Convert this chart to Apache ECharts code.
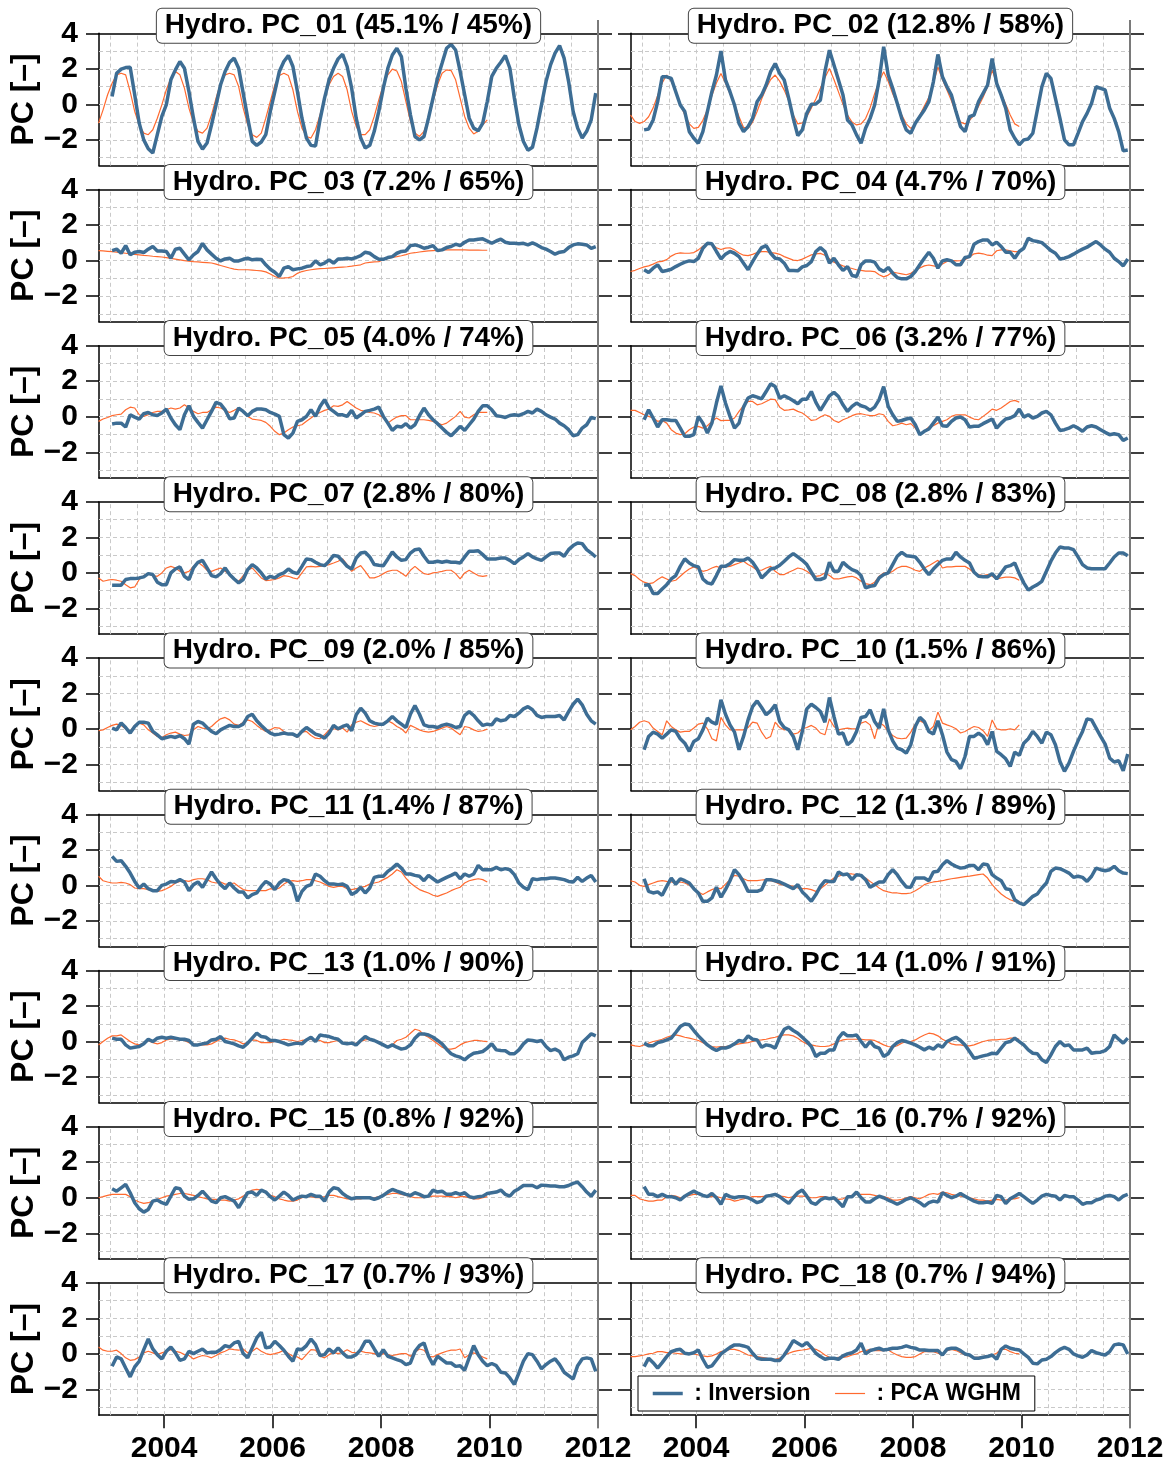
<!DOCTYPE html>
<html><head><meta charset="utf-8">
<script src="https://cdn.jsdelivr.net/npm/echarts@6/dist/echarts.min.js"></script>
<style>html,body{margin:0;padding:0;background:#fff}#c{width:1175px;height:1465px}</style>
</head><body><div id="c"></div>
<script>
const titles = ["Hydro. PC_01 (45.1% / 45%)","Hydro. PC_02 (12.8% / 58%)","Hydro. PC_03 (7.2% / 65%)","Hydro. PC_04 (4.7% / 70%)","Hydro. PC_05 (4.0% / 74%)","Hydro. PC_06 (3.2% / 77%)","Hydro. PC_07 (2.8% / 80%)","Hydro. PC_08 (2.8% / 83%)","Hydro. PC_09 (2.0% / 85%)","Hydro. PC_10 (1.5% / 86%)","Hydro. PC_11 (1.4% / 87%)","Hydro. PC_12 (1.3% / 89%)","Hydro. PC_13 (1.0% / 90%)","Hydro. PC_14 (1.0% / 91%)","Hydro. PC_15 (0.8% / 92%)","Hydro. PC_16 (0.7% / 92%)","Hydro. PC_17 (0.7% / 93%)","Hydro. PC_18 (0.7% / 94%)"];
const seriesNames = ["Inversion", "PCA WGHM"];
const yTickValues = [-2, 0, 2, 4];
const xTickValues = [2004, 2006, 2008, 2010, 2012];
const yGridValues = [-3, -2, -1, 0, 1, 2, 3];
const xGridValues = [2003, 2003.5, 2004, 2004.5, 2005, 2005.5, 2006, 2006.5, 2007, 2007.5, 2008, 2008.5, 2009, 2009.5, 2010, 2010.5, 2011, 2011.5];
const invStart = [2003, 0];   // first Inversion month: Jan 2003
const wghmStart = [2002, 9];  // first WGHM month: Oct 2002

const inv01 = [0.44,1.75,1.98,2.07,2.09,0.54,-1.06,-2.0,-2.5,-2.74,-1.71,-0.68,
-0.02,1.38,1.94,2.41,2.03,0.72,-0.78,-2.09,-2.52,-2.18,-1.15,-0.03,
1.1,1.85,2.37,2.6,2.03,0.63,-0.78,-2.09,-2.31,-2.12,-1.71,-0.4,
0.72,1.85,2.41,2.75,2.13,0.72,-0.78,-1.9,-2.31,-2.35,-0.87,0.35,
1.38,2.03,2.56,2.82,2.13,0.91,-0.78,-1.9,-2.46,-2.31,-1.52,-0.4,
0.91,2.03,2.78,3.16,2.69,0.91,-0.59,-1.81,-2.0,-1.81,-0.78,0.35,
1.47,2.31,3.16,3.38,3.06,1.85,0.54,-0.78,-1.34,-1.49,-1.06,0.16,
1.57,2.03,2.37,2.75,2.03,0.35,-1.15,-2.09,-2.59,-2.42,-1.34,-0.03,
1.28,2.22,2.88,3.31,2.6,1.28,-0.4,-1.34,-1.9,-1.52,-0.87,0.63];
const wghm01 = [-1.06,-0.31,0.54,1.19,1.66,1.75,1.66,0.72,-0.4,-1.15,-1.62,-1.71,
-1.43,-0.78,-0.03,0.82,1.47,1.85,1.66,0.91,-0.21,-1.06,-1.52,-1.62,
-1.34,-0.59,0.35,1.19,1.66,1.75,1.66,1.0,-0.21,-1.15,-1.71,-1.86,
-1.62,-0.78,0.16,1.1,1.62,1.75,1.62,0.82,-0.4,-1.34,-1.81,-1.9,
-1.43,-0.59,0.35,1.1,1.57,1.75,1.57,0.82,-0.4,-1.24,-1.71,-1.71,
-1.43,-0.68,0.25,1.1,1.66,1.98,1.88,1.28,0.16,-0.96,-1.62,-1.81,
-1.52,-0.78,0.16,1.1,1.75,1.94,1.9,1.38,0.35,-0.68,-1.34,-1.67,
-1.52,-1.15,-0.87];
const inv02 = [-1.44,-1.39,-0.88,0.15,1.55,1.55,1.46,0.71,-0.04,-0.41,-1.54,-1.91,
-2.19,-1.54,-0.41,0.71,1.65,3.0,1.37,0.71,-0.04,-1.07,-1.54,-1.25,
-0.79,0.15,0.52,1.09,1.84,2.3,1.74,1.37,0.34,-0.79,-1.76,-1.44,
-0.51,0.0,0.02,0.24,1.84,3.05,2.21,1.37,0.52,-0.88,-1.16,-1.72,
-2.19,-1.35,-0.79,-0.04,1.37,3.24,1.65,0.9,0.06,-0.79,-1.44,-1.63,
-1.07,-0.69,-0.32,0.15,1.27,2.81,1.55,0.99,0.52,-0.41,-1.25,-1.54,
-0.69,-0.6,0.15,0.62,1.09,2.58,1.18,0.52,-0.22,-1.44,-1.91,-2.28,
-2.0,-1.95,-1.63,-0.32,0.99,1.74,1.46,0.34,-0.79,-2.0,-2.28,-2.28,
-1.63,-0.97,-0.51,0.06,0.99,0.9,0.81,-0.22,-0.79,-1.54,-2.62,-2.57];
const wghm02 = [-0.6,-0.97,-1.07,-0.97,-0.7,-0.2,0.5,1.2,1.65,1.3,0.7,0.0,
-0.6,-1.1,-1.35,-1.3,-0.9,-0.3,0.5,1.2,1.74,1.2,0.6,0.0,
-0.7,-1.3,-1.35,-1.0,-0.4,0.3,0.9,1.4,1.65,1.3,0.8,0.2,
-0.6,-1.1,-1.05,-0.7,-0.2,0.3,0.9,1.5,2.02,1.4,0.7,0.0,
-0.6,-1.0,-1.16,-1.1,-0.8,-0.2,0.6,1.3,1.84,1.3,0.6,0.0,
-0.6,-1.1,-1.35,-1.1,-0.6,-0.1,0.4,1.2,2.1,1.4,0.8,0.2,
-0.5,-1.0,-1.1,-0.9,-0.6,-0.1,0.4,1.0,1.93,1.2,0.6,0.0,
-0.6,-1.1,-1.25];
const inv03 = [0.56,0.64,0.41,0.84,0.32,0.47,0.51,0.45,0.64,0.79,0.54,0.54,
0.51,0.13,0.64,0.69,0.36,0.04,0.32,0.51,0.96,0.6,0.36,0.13,
-0.02,0.09,0.13,-0.02,-0.02,0.07,0.13,0.04,0.07,0.06,-0.24,-0.49,
-0.66,-0.9,-0.43,-0.34,-0.52,-0.47,-0.43,-0.34,-0.3,-0.02,-0.24,-0.15,
0.04,-0.15,0.09,0.09,0.13,0.09,0.17,0.28,0.47,0.41,0.22,0.07,
0.07,0.17,0.22,0.41,0.51,0.54,0.84,0.88,0.81,0.69,0.75,0.84,
0.56,0.6,0.73,0.79,0.92,0.84,1.03,1.16,1.16,1.2,1.22,1.1,
0.97,1.1,1.2,1.03,0.97,0.97,0.94,0.97,0.88,0.99,0.88,0.73,
0.64,0.51,0.36,0.47,0.51,0.73,0.88,0.94,0.92,0.88,0.69,0.79];
const wghm03 = [0.56,0.54,0.52,0.5,0.47,0.44,0.41,0.38,0.35,0.32,0.29,0.27,
0.24,0.22,0.2,0.16,0.12,0.08,0.04,0.0,-0.03,-0.06,-0.08,-0.1,
-0.12,-0.14,-0.2,-0.28,-0.35,-0.42,-0.48,-0.52,-0.52,-0.52,-0.54,-0.56,
-0.58,-0.64,-0.76,-0.9,-0.99,-0.98,-0.96,-0.9,-0.72,-0.62,-0.56,-0.52,
-0.48,-0.46,-0.45,-0.43,-0.41,-0.39,-0.37,-0.35,-0.32,-0.28,-0.24,-0.14,
-0.1,-0.08,-0.06,0.05,0.12,0.18,0.22,0.27,0.33,0.41,0.44,0.48,
0.52,0.54,0.56,0.58,0.6,0.6,0.6,0.6,0.6,0.6,0.59,0.59,
0.59,0.58,0.58];
const inv04 = [-0.52,-0.67,-0.43,-0.24,-0.62,-0.56,-0.49,-0.34,-0.21,-0.09,-0.02,-0.06,
0.13,0.69,0.97,0.94,0.51,0.09,0.36,0.51,0.41,0.22,-0.15,-0.52,
-0.06,0.36,0.73,0.84,0.41,0.13,0.09,-0.15,-0.56,-0.56,-0.58,-0.36,
-0.28,-0.06,0.51,0.73,0.51,-0.15,0.13,-0.24,-0.56,-0.34,-0.84,-0.9,
-0.24,-0.02,-0.02,-0.09,-0.47,-0.62,-0.39,-0.71,-0.96,-1.03,-1.03,-0.9,
-0.62,-0.24,0.13,0.47,0.13,-0.43,-0.02,0.04,-0.02,-0.24,-0.24,0.17,
0.22,0.92,1.07,1.16,1.16,0.88,1.03,0.79,0.47,0.47,0.13,0.51,
0.69,1.25,1.12,1.07,1.01,0.79,0.56,0.41,0.09,0.13,0.22,0.36,
0.51,0.64,0.75,0.92,1.07,0.88,0.64,0.47,0.13,-0.06,-0.3,0.09];
const wghm04 = [-0.62,-0.55,-0.45,-0.36,-0.3,-0.2,-0.08,-0.05,0.05,0.25,0.38,0.43,
0.41,0.41,0.45,0.6,0.8,0.97,0.9,0.72,0.62,0.7,0.72,0.6,
0.42,0.3,0.28,0.35,0.45,0.5,0.5,0.45,0.42,0.35,0.22,0.12,
0.02,0.0,0.08,0.2,0.32,0.38,0.4,0.3,0.1,-0.1,-0.2,-0.3,
-0.38,-0.45,-0.52,-0.55,-0.6,-0.6,-0.62,-0.8,-0.92,-0.82,-0.65,-0.7,
-0.75,-0.8,-0.72,-0.55,-0.42,-0.3,-0.25,-0.3,-0.35,-0.2,-0.05,0.0,
-0.02,0.0,0.05,0.2,0.38,0.42,0.38,0.3,0.28,0.55,0.6,0.6,
0.55,0.5,0.5];
const inv05 = [-0.41,-0.36,-0.36,-0.58,0.11,-0.02,-0.13,0.17,0.24,0.11,0.07,0.21,
0.43,-0.07,-0.45,-0.73,0.11,0.62,0.02,-0.32,-0.64,-0.17,0.3,0.81,
0.71,0.39,-0.11,-0.07,0.49,0.3,0.06,0.3,0.43,0.43,0.39,0.24,
0.15,0.02,-1.01,-1.2,-0.92,-0.26,-0.17,0.02,0.39,0.02,0.58,0.96,
0.49,0.3,0.11,0.11,0.02,0.36,-0.07,0.11,0.3,0.36,0.43,0.54,
0.02,-0.36,-0.77,-0.54,-0.58,-0.39,-0.64,-0.45,0.06,0.49,0.11,-0.17,
-0.39,-0.64,-0.88,-1.07,-0.82,-0.54,-0.77,-0.45,-0.13,0.3,0.62,0.62,
0.39,0.06,0.02,-0.04,0.07,0.11,0.07,0.17,0.3,0.21,0.43,0.3,
0.11,-0.02,-0.13,-0.36,-0.51,-0.73,-1.07,-1.01,-0.64,-0.45,-0.04,-0.11];
const wghm05 = [-0.26,-0.13,-0.04,0.06,0.11,0.15,0.39,0.54,0.49,0.11,0.02,0.11,
0.24,0.3,0.3,0.39,0.49,0.43,0.49,0.67,0.49,0.3,0.17,0.24,
0.24,0.39,0.54,0.49,0.36,0.24,0.36,0.49,0.3,0.02,-0.13,-0.17,
-0.21,-0.32,-0.54,-0.82,-1.01,-0.92,-0.73,-0.58,-0.51,-0.45,-0.26,-0.07,
0.11,0.24,0.36,0.43,0.62,0.58,0.67,0.86,0.67,0.49,0.36,0.3,
0.24,0.21,0.11,-0.07,-0.36,-0.17,-0.02,0.06,0.06,-0.17,-0.17,-0.17,
-0.17,-0.21,-0.26,-0.36,-0.45,-0.36,-0.17,0.02,0.3,-0.02,-0.07,0.11,
0.24,0.24,0.24];
const inv06 = [-0.17,0.39,-0.07,-0.58,-0.17,-0.17,-0.21,-0.21,-0.64,-1.1,-1.1,-1.01,
0.02,-0.36,-0.92,-0.36,0.77,1.74,0.77,0.02,-0.64,-0.36,0.54,1.05,
1.18,1.1,1.01,1.42,1.85,1.7,1.05,1.18,1.05,0.9,0.73,0.99,
0.99,1.42,0.81,0.36,0.77,1.18,1.37,1.14,0.67,0.3,0.58,0.77,
0.62,0.54,0.36,0.54,0.96,1.7,0.58,0.11,-0.26,-0.21,-0.13,-0.07,
-0.45,-1.01,-0.82,-0.69,-0.36,-0.02,-0.51,-0.54,-0.26,-0.07,-0.02,-0.17,
-0.58,-0.54,-0.54,-0.39,-0.26,-0.13,-0.64,-0.36,-0.13,-0.07,0.06,0.43,
-0.02,0.11,-0.07,0.02,0.21,0.3,0.11,-0.36,-0.77,-0.73,-0.64,-0.51,
-0.64,-0.82,-0.58,-0.51,-0.58,-0.73,-0.88,-1.01,-0.96,-1.01,-1.33,-1.2];
const wghm06 = [0.36,0.36,0.24,0.11,0.02,-0.07,-0.26,-0.21,-0.36,-0.73,-0.92,-1.01,
-0.96,-0.73,-0.58,-0.54,-0.64,-0.51,-0.26,-0.07,-0.22,-0.21,-0.21,-0.07,
0.3,0.62,0.86,0.86,0.67,0.73,0.86,0.99,0.96,0.54,0.36,0.39,
0.43,0.3,0.21,0.02,-0.21,-0.17,-0.02,0.11,0.02,-0.21,-0.32,-0.17,
-0.07,0.06,0.15,0.17,0.11,0.06,0.06,0.17,0.11,-0.26,-0.51,-0.45,
-0.36,-0.45,-0.39,-0.64,-0.96,-0.82,-0.58,-0.51,-0.36,-0.26,-0.17,0.02,
0.11,0.11,0.11,-0.02,-0.13,-0.17,0.02,0.21,0.43,0.36,0.49,0.67,
0.86,0.92,0.82];
const inv07 = [-0.69,-0.69,-0.69,-0.37,-0.32,-0.32,-0.28,-0.22,-0.04,-0.09,-0.52,-0.66,
-0.66,0.0,0.22,0.34,-0.19,-0.37,0.28,0.6,0.71,0.28,-0.15,-0.22,
-0.04,0.28,-0.09,-0.34,-0.56,-0.37,0.19,0.47,0.28,0.0,-0.34,-0.19,
-0.28,-0.09,0.0,0.22,0.04,-0.04,0.37,0.79,0.75,0.6,0.47,0.41,
0.66,0.99,0.94,0.66,0.37,0.22,0.84,1.12,1.16,0.9,0.47,0.43,
0.41,0.79,1.18,0.9,0.71,0.75,1.12,1.31,1.35,0.94,0.6,0.6,
0.66,0.6,0.66,0.6,0.6,0.56,0.9,1.22,1.22,1.25,1.03,0.79,
0.79,0.79,0.84,0.84,0.71,0.52,0.75,0.9,1.09,0.9,0.79,0.71,
0.9,1.09,1.12,1.12,0.94,1.31,1.54,1.69,1.65,1.31,1.12,0.9];
const wghm07 = [-0.28,-0.47,-0.41,-0.37,-0.41,-0.47,-0.66,-0.84,-0.79,-0.37,-0.15,-0.04,
-0.15,-0.19,0.0,0.28,0.37,0.28,0.09,0.0,0.09,0.37,0.6,0.41,
0.15,0.09,0.19,0.28,0.09,-0.09,-0.37,-0.47,-0.15,0.15,0.28,0.0,
-0.28,-0.43,-0.41,-0.37,-0.28,-0.15,-0.19,-0.28,-0.34,0.0,0.34,0.37,
0.34,0.37,0.41,0.47,0.56,0.66,0.79,0.47,0.09,0.28,0.41,0.09,
-0.28,-0.28,-0.19,-0.04,0.09,0.15,0.15,0.0,-0.19,0.15,0.37,0.15,
-0.04,-0.09,0.0,0.04,0.09,0.15,0.15,-0.04,-0.34,0.0,0.15,0.0,
-0.15,-0.19,-0.15];
const inv08 = [-0.69,-0.66,-1.16,-1.16,-0.9,-0.66,-0.34,-0.15,0.37,0.79,0.56,0.41,
0.34,-0.34,-0.56,-0.62,-0.15,0.37,0.37,0.52,0.75,0.71,0.71,0.84,
0.6,0.22,-0.28,-0.04,0.22,0.28,0.43,0.66,0.9,1.09,0.9,0.71,
0.47,0.04,-0.37,-0.37,-0.28,0.6,0.09,0.09,0.6,0.37,0.19,0.09,
-0.15,-0.84,-0.75,-0.71,-0.28,-0.09,0.0,0.47,0.94,1.16,0.97,0.94,
0.9,0.6,0.22,-0.09,0.22,0.47,0.71,0.79,0.79,1.16,0.9,0.71,
0.56,0.04,-0.19,-0.22,-0.22,-0.04,-0.34,0.0,0.34,0.41,0.56,-0.04,
-0.56,-0.97,-0.79,-0.66,-0.47,0.09,0.66,1.12,1.46,1.4,1.4,1.31,
0.9,0.47,0.28,0.24,0.24,0.24,0.24,0.56,0.9,1.12,1.12,0.97];
const wghm08 = [-0.04,-0.15,-0.37,-0.52,-0.6,-0.56,-0.37,-0.22,-0.34,-0.47,-0.41,-0.19,
0.04,0.22,0.34,0.22,0.09,0.15,0.28,0.37,0.28,0.34,0.37,0.47,
0.56,0.66,0.47,0.34,0.15,0.15,0.28,0.37,0.09,-0.09,-0.09,0.04,
0.15,0.28,0.22,0.09,-0.09,-0.19,-0.15,0.0,-0.15,-0.34,-0.34,-0.28,
-0.22,-0.19,-0.28,-0.47,-0.6,-0.66,-0.52,-0.19,0.0,-0.04,0.09,0.28,
0.37,0.37,0.28,0.15,0.09,0.28,0.41,0.56,0.71,0.28,0.34,0.34,
0.37,0.37,0.37,0.22,0.0,-0.09,-0.15,-0.09,-0.19,-0.34,-0.28,-0.24,
-0.24,-0.28,-0.41];
const inv09 = [0.06,-0.04,0.34,0.09,-0.22,0.15,0.39,0.39,0.34,-0.13,-0.32,-0.54,
-0.47,-0.41,-0.47,-0.36,-0.54,-0.84,0.28,0.43,0.34,0.09,-0.13,-0.26,
-0.04,0.09,0.21,0.15,0.15,0.28,0.71,0.84,0.47,0.21,-0.04,-0.22,
-0.32,-0.28,-0.22,-0.28,-0.28,-0.41,-0.13,0.09,-0.09,-0.28,-0.36,-0.51,
-0.22,0.21,0.02,0.15,0.24,-0.09,0.81,1.18,0.9,0.47,0.34,0.28,
0.28,0.47,0.71,0.47,0.28,0.09,0.84,1.33,0.84,0.24,0.15,0.15,
0.09,0.21,0.28,0.21,0.09,0.15,0.77,0.99,0.77,0.47,0.21,0.28,
0.24,0.58,0.47,0.52,0.77,0.71,0.9,1.14,1.27,1.09,0.77,0.66,
0.71,0.71,0.71,0.77,0.52,0.99,1.4,1.69,1.37,0.84,0.47,0.28];
const wghm09 = [-0.09,-0.04,0.09,0.21,0.28,0.21,0.02,-0.13,0.21,0.34,0.24,-0.04,
-0.22,-0.41,-0.47,-0.32,-0.22,-0.17,-0.28,-0.36,-0.32,-0.04,0.15,0.06,
0.02,0.15,0.39,0.58,0.66,0.52,0.28,0.21,0.39,0.52,0.43,0.21,
0.02,-0.13,-0.04,0.09,0.06,-0.13,-0.28,-0.32,-0.47,-0.17,-0.13,-0.36,
-0.51,-0.54,-0.32,-0.04,0.02,-0.04,0.06,-0.17,0.24,0.39,0.47,0.34,
0.21,0.15,0.21,0.34,0.47,0.34,0.15,0.02,-0.22,0.21,0.09,-0.04,
-0.13,-0.17,-0.13,-0.04,0.06,0.15,0.06,-0.13,-0.32,0.15,0.09,-0.04,
-0.13,-0.09,0.0];
const inv10 = [-1.16,-0.41,-0.17,-0.28,-0.51,-0.28,-0.04,-0.13,-0.54,-0.79,-1.25,-0.69,
-0.54,-0.04,0.62,0.39,0.28,1.65,0.84,0.24,-0.17,-1.16,-0.41,0.52,
1.27,1.59,1.22,0.81,1.03,1.37,0.43,0.09,-0.04,-0.41,-1.16,-0.13,
1.14,1.4,1.22,0.99,0.39,1.78,0.71,-0.28,-0.22,-0.88,-0.66,-0.13,
0.66,0.71,1.09,0.43,0.06,1.14,-0.04,-0.66,-1.07,-1.16,-1.35,-0.88,
0.15,0.66,0.43,-0.13,-0.28,0.47,-0.32,-1.29,-1.72,-1.82,-2.23,-1.54,
-0.41,-0.41,-0.22,-0.41,-0.88,-0.13,-1.25,-1.44,-1.67,-2.1,-1.29,-1.48,
-0.79,-0.54,-0.13,-0.41,-0.79,-0.17,-0.32,-0.88,-1.82,-2.38,-1.91,-1.25,
-0.66,-0.13,0.58,0.52,0.06,-0.41,-0.84,-1.63,-1.85,-1.78,-2.34,-1.4];
const wghm10 = [-0.04,0.15,0.39,0.47,0.39,0.06,-0.13,-0.32,0.47,0.15,-0.04,-0.17,
-0.13,-0.13,0.06,0.28,0.34,0.02,-0.54,-0.66,0.66,0.24,-0.04,-0.04,
-0.04,-0.04,0.09,0.39,0.34,-0.17,-0.54,-0.41,0.39,0.09,-0.04,0.02,
-0.28,-0.22,0.02,0.09,0.21,0.06,-0.22,-0.32,0.58,0.15,-0.04,0.02,
0.06,0.02,0.02,0.34,0.43,0.24,-0.54,0.39,0.21,-0.13,-0.36,-0.51,
-0.54,-0.51,-0.17,0.28,0.47,0.34,-0.09,0.15,0.96,0.34,0.24,0.15,
0.02,-0.22,-0.13,0.02,0.15,0.09,-0.09,-0.41,0.52,0.02,-0.04,-0.04,
0.02,-0.04,0.24];
const inv11 = [1.63,1.35,1.39,1.07,0.69,0.22,-0.15,0.07,-0.19,-0.3,-0.3,0.0,
0.07,0.22,0.19,0.32,0.19,-0.3,0.04,0.19,-0.11,0.32,0.75,0.37,
0.04,-0.19,0.13,-0.15,-0.37,-0.37,-0.71,-0.52,-0.43,-0.06,0.22,0.07,
-0.24,0.13,0.32,0.26,0.0,-0.9,-0.34,-0.06,0.04,0.64,0.51,0.26,
0.07,0.07,0.04,0.07,-0.06,-0.52,-0.37,-0.11,-0.43,-0.15,0.45,0.51,
0.51,0.79,0.97,1.2,0.97,0.64,0.64,0.56,0.51,0.26,0.56,0.37,
0.19,0.32,0.45,0.56,0.69,0.37,0.64,0.51,0.64,1.12,0.88,0.88,
0.88,1.01,0.88,0.94,0.88,0.6,0.13,-0.11,-0.24,0.37,0.32,0.37,
0.37,0.41,0.41,0.37,0.32,0.22,0.19,0.45,0.22,0.41,0.56,0.19];
const wghm11 = [0.51,0.26,0.19,0.13,0.13,0.17,0.13,0.04,-0.15,-0.19,-0.19,-0.24,
-0.3,-0.34,-0.3,-0.19,-0.06,0.13,0.22,0.26,0.22,0.32,0.37,0.37,
0.32,0.19,0.13,0.19,0.07,0.07,0.13,-0.06,-0.24,-0.3,-0.3,-0.3,
-0.3,-0.3,-0.19,-0.24,-0.15,0.07,0.22,0.26,0.22,0.26,0.32,0.32,
0.26,0.19,0.07,-0.06,-0.11,-0.06,-0.06,-0.19,-0.24,-0.19,-0.11,-0.06,
0.07,0.13,0.19,0.32,0.45,0.64,0.88,0.75,0.41,0.13,-0.06,-0.24,
-0.34,-0.43,-0.56,-0.62,-0.52,-0.43,-0.3,-0.19,-0.11,0.13,0.26,0.32,
0.37,0.32,0.19];
const inv12 = [0.37,-0.34,-0.43,-0.37,-0.56,-0.06,0.41,0.07,0.37,0.26,0.13,-0.19,
-0.43,-0.9,-0.9,-0.71,-0.11,-0.67,-0.24,0.26,0.88,0.6,0.19,-0.34,
-0.34,-0.34,-0.24,0.32,0.32,0.26,0.19,0.07,-0.06,-0.19,0.04,-0.37,
-0.62,-0.9,-0.52,-0.06,0.26,0.22,0.22,0.75,0.6,0.64,0.32,0.6,
0.56,0.32,-0.11,0.04,0.19,0.19,0.6,0.88,0.6,0.22,-0.09,-0.11,
0.41,0.41,0.41,0.26,0.75,0.79,1.16,1.39,1.2,1.07,0.97,1.01,
1.12,1.12,0.88,1.2,1.16,0.6,0.41,0.26,-0.19,-0.24,-0.81,-0.99,
-1.09,-0.86,-0.62,-0.49,-0.15,0.13,0.79,0.97,0.94,0.82,0.69,0.45,
0.51,0.45,0.22,0.51,0.97,0.88,0.82,0.88,1.07,0.82,0.69,0.66];
const wghm12 = [0.26,0.19,0.0,-0.06,0.04,0.13,0.22,0.26,0.22,0.19,0.13,0.19,
0.13,0.0,-0.19,-0.37,-0.52,-0.37,-0.24,-0.15,-0.19,0.07,0.32,0.56,
0.51,0.37,0.26,0.26,0.26,0.3,0.32,0.26,0.19,0.07,0.0,0.0,
-0.06,-0.15,-0.19,-0.19,-0.24,-0.34,-0.19,0.0,0.22,0.41,0.51,0.6,
0.64,0.64,0.6,0.51,0.41,0.22,0.04,-0.15,-0.3,-0.37,-0.43,-0.43,
-0.47,-0.47,-0.43,-0.3,-0.15,0.04,0.13,0.19,0.22,0.26,0.32,0.37,
0.41,0.45,0.49,0.52,0.56,0.6,0.64,0.41,0.04,-0.24,-0.49,-0.67,
-0.81,-0.9,-0.9];
const inv13 = [0.19,0.13,0.13,-0.19,-0.37,-0.32,-0.28,-0.13,0.13,0.0,0.19,0.24,
0.19,0.24,0.19,0.13,0.13,0.06,-0.19,-0.19,-0.13,-0.09,0.09,0.13,
0.28,0.0,-0.06,-0.13,-0.24,-0.32,-0.09,0.19,0.47,0.28,0.24,0.06,
0.06,0.0,-0.09,-0.19,-0.13,-0.09,-0.13,0.09,0.24,0.0,0.37,0.32,
0.28,0.19,0.13,-0.09,-0.13,-0.09,-0.19,0.06,0.28,0.13,0.06,-0.06,
-0.19,-0.32,-0.19,-0.32,-0.43,-0.37,-0.19,0.19,0.43,0.43,0.37,0.24,
0.06,-0.13,-0.43,-0.69,-0.81,-0.88,-1.03,-0.81,-0.66,-0.62,-0.56,-0.37,
-0.13,-0.47,-0.51,-0.52,-0.69,-0.69,-0.47,-0.13,0.09,0.06,0.0,0.06,
-0.28,-0.51,-0.43,-0.56,-1.03,-0.88,-0.81,-0.69,-0.06,0.19,0.43,0.32];
const wghm13 = [-0.19,0.0,0.19,0.32,0.32,0.37,0.19,0.0,-0.13,-0.19,-0.09,0.06,
-0.06,-0.13,-0.06,0.09,0.13,0.13,0.09,0.06,-0.06,-0.13,-0.19,-0.19,
-0.19,-0.13,0.0,0.13,0.19,0.13,0.09,0.0,-0.13,-0.06,0.09,0.06,
-0.06,-0.06,-0.06,0.0,0.06,0.13,0.09,0.06,0.0,0.06,0.09,0.13,
0.09,0.06,-0.06,-0.06,0.0,0.06,-0.06,-0.13,-0.13,-0.09,0.0,0.09,
0.13,0.06,-0.06,-0.19,-0.32,-0.19,0.06,0.13,0.24,0.47,0.69,0.62,
0.37,0.24,0.06,-0.13,-0.32,-0.43,-0.43,-0.37,-0.19,-0.06,0.0,0.06,
0.06,0.02,0.0];
const inv14 = [-0.09,-0.24,-0.24,-0.06,0.0,0.09,0.19,0.51,0.84,0.99,0.94,0.62,
0.32,0.06,-0.19,-0.37,-0.51,-0.37,-0.37,-0.28,-0.13,0.06,0.0,0.32,
0.13,0.09,-0.32,-0.19,-0.24,-0.37,0.24,0.69,0.81,0.62,0.47,0.24,
0.0,-0.28,-0.84,-0.66,-0.66,-0.47,-0.47,0.19,0.51,0.32,0.32,0.37,
0.0,-0.32,0.0,-0.28,-0.37,-0.84,-0.69,-0.28,-0.06,0.06,0.0,-0.09,
-0.19,-0.32,-0.47,-0.32,-0.43,-0.19,-0.32,0.0,0.13,0.24,0.06,-0.19,
-0.56,-0.94,-0.88,-0.81,-0.75,-0.66,-0.69,-0.37,-0.06,0.0,0.19,0.0,
-0.19,-0.47,-0.66,-0.69,-1.03,-1.18,-0.75,-0.28,0.0,-0.24,-0.19,-0.47,
-0.47,-0.47,-0.37,-0.66,-0.62,-0.6,-0.51,-0.28,0.37,0.13,-0.09,0.19];
const wghm14 = [-0.19,-0.24,-0.28,-0.19,-0.09,0.0,0.06,0.13,0.24,0.32,0.37,0.32,
0.24,0.19,0.13,0.06,-0.06,-0.19,-0.28,-0.32,-0.28,-0.28,-0.24,-0.19,
-0.13,-0.09,-0.06,0.0,0.06,0.09,0.13,0.19,0.24,0.32,0.37,0.37,
0.32,0.19,0.0,-0.13,-0.19,-0.24,-0.28,-0.28,-0.24,-0.13,0.0,0.09,
0.13,0.13,0.13,0.13,0.09,0.09,0.06,-0.06,-0.19,-0.28,-0.32,-0.24,
-0.09,0.0,0.0,0.09,0.24,0.37,0.47,0.43,0.32,0.13,0.0,-0.13,
-0.19,-0.19,-0.24,-0.24,-0.19,-0.09,0.0,0.06,0.09,0.09,0.13,0.13,
0.19,0.19,0.13];
const inv15 = [0.51,0.37,0.56,0.75,0.28,-0.28,-0.62,-0.81,-0.66,-0.19,-0.13,-0.28,
-0.37,0.09,0.56,0.51,0.09,-0.09,-0.06,0.13,0.37,0.09,-0.19,-0.28,
0.0,0.06,-0.06,-0.19,-0.56,-0.13,0.28,0.32,0.13,0.43,0.32,0.06,
-0.13,0.09,0.32,0.13,-0.13,0.0,0.09,0.06,0.19,0.09,0.09,-0.19,
0.32,0.56,0.51,0.24,0.06,-0.06,0.0,0.0,0.0,0.0,-0.09,0.0,
0.13,0.32,0.47,0.37,0.28,0.19,0.13,0.28,0.19,0.06,0.09,0.43,
0.32,0.37,0.19,0.19,0.28,0.19,0.28,0.06,0.0,0.06,0.09,0.24,
0.28,0.32,0.43,0.19,0.09,0.37,0.51,0.69,0.69,0.69,0.56,0.71,
0.69,0.66,0.66,0.62,0.62,0.69,0.81,0.88,0.62,0.32,0.09,0.43];
const wghm15 = [0.0,0.06,0.13,0.19,0.19,0.19,0.19,0.06,-0.13,-0.24,-0.32,-0.28,
-0.19,-0.09,0.0,0.09,0.13,0.19,0.24,0.24,0.19,0.13,0.06,0.0,
-0.06,-0.09,-0.09,-0.13,-0.13,-0.19,-0.13,-0.06,0.09,0.28,0.43,0.47,
0.43,0.28,0.13,0.06,-0.06,-0.13,-0.19,-0.19,-0.13,0.0,0.06,0.06,
0.0,0.0,0.06,0.13,0.13,0.06,0.0,-0.06,-0.06,-0.06,-0.06,0.0,
0.0,0.0,0.06,0.13,0.19,0.24,0.24,0.19,0.13,0.06,0.0,0.0,
0.0,0.06,0.09,0.09,0.09,0.06,0.06,0.0,0.06,0.06,0.0,-0.06,
-0.06,0.0,0.06];
const inv16 = [0.62,0.19,0.19,0.06,0.19,0.06,0.06,0.0,-0.13,0.09,0.24,0.37,
0.24,0.13,0.06,0.24,0.0,-0.37,0.19,0.06,0.0,0.06,0.06,0.0,
-0.13,-0.28,-0.19,0.09,0.13,0.19,0.06,-0.13,-0.32,0.0,0.28,0.43,
0.09,-0.28,-0.37,-0.13,0.0,-0.06,0.0,-0.24,-0.51,0.06,0.06,0.32,
0.0,-0.24,-0.24,-0.06,0.09,0.0,-0.13,-0.24,-0.37,-0.24,-0.09,0.0,
-0.13,-0.28,-0.47,-0.28,-0.19,-0.24,0.28,0.13,0.0,0.09,0.24,0.09,
-0.06,-0.19,-0.28,-0.28,-0.24,-0.32,0.13,0.06,-0.32,-0.06,0.09,0.24,
0.06,-0.13,-0.32,-0.13,0.09,0.19,0.13,0.09,-0.13,0.13,0.06,0.06,
-0.13,-0.37,-0.28,-0.28,-0.13,-0.06,0.09,0.13,0.06,-0.13,0.09,0.19];
const wghm16 = [0.13,0.13,-0.06,-0.13,-0.19,-0.19,-0.13,-0.13,0.06,0.13,0.09,0.0,
0.06,0.13,0.19,0.19,0.13,0.06,0.06,0.06,0.0,-0.06,-0.09,-0.19,
-0.13,-0.06,0.0,0.06,0.06,0.06,0.09,0.13,0.13,0.09,0.06,0.0,
0.06,0.09,0.09,0.06,0.0,0.0,0.06,0.06,0.0,-0.06,-0.09,-0.06,
0.06,0.13,0.19,0.19,0.19,0.19,0.13,0.06,0.06,0.0,-0.13,-0.13,
-0.09,0.0,0.06,0.0,-0.06,0.06,0.19,0.24,0.19,0.32,0.28,0.19,
0.13,0.09,0.06,0.0,-0.06,-0.13,-0.13,-0.19,-0.13,-0.09,-0.13,-0.13,
-0.06,-0.06,0.0];
const inv17 = [-0.7,-0.17,-0.28,-0.79,-1.29,-0.73,-0.41,0.24,0.84,0.28,-0.04,-0.28,
0.15,0.39,0.06,-0.36,-0.28,0.15,0.02,0.15,0.28,0.06,0.09,0.09,
0.24,0.47,0.39,0.62,0.71,0.02,-0.22,0.34,0.9,1.22,0.34,0.39,
0.71,0.47,0.21,-0.13,-0.41,0.28,0.24,0.47,0.84,0.52,-0.09,-0.04,
0.28,0.06,0.34,0.06,-0.17,-0.17,-0.04,0.24,0.71,0.71,0.28,-0.13,
0.24,-0.13,-0.22,-0.32,-0.41,-0.6,-0.51,0.15,0.47,0.62,-0.13,-0.6,
-0.13,-0.32,-0.51,-0.51,-0.7,-0.66,-0.92,-0.22,0.47,-0.04,-0.41,-0.66,
-0.54,-0.66,-1.03,-1.07,-1.35,-1.72,-1.07,-0.41,0.02,-0.04,-0.41,-0.84,
-0.6,-0.41,-0.28,-0.6,-1.03,-1.22,-1.41,-0.66,-0.28,-0.22,-0.28,-0.98];
const wghm17 = [0.39,0.21,0.15,0.15,0.21,0.02,-0.22,-0.36,-0.32,-0.17,0.06,0.15,
0.06,-0.04,0.06,0.15,0.24,0.15,0.09,-0.04,-0.09,-0.28,-0.17,-0.09,
-0.13,-0.22,-0.09,0.06,0.15,0.28,0.24,0.21,0.28,0.06,0.15,0.34,
0.15,0.02,-0.04,0.02,0.09,0.21,0.02,-0.13,-0.17,-0.32,-0.04,0.24,
0.21,-0.13,-0.22,-0.04,0.09,0.02,0.09,0.24,0.09,0.06,0.15,0.09,
0.06,0.02,-0.13,0.02,-0.04,-0.09,-0.04,0.02,0.02,-0.13,0.09,0.28,
0.21,-0.13,-0.17,-0.04,0.06,0.15,0.21,0.21,0.28,-0.22,-0.04,0.06,
-0.04,-0.17,-0.28];
const inv18 = [-0.71,-0.24,-0.49,-0.8,-0.49,-0.15,0.13,0.22,0.26,0.04,0.0,0.07,
0.22,-0.3,-0.75,-0.67,-0.34,0.0,0.19,0.37,0.51,0.51,0.45,0.37,
0.04,-0.24,-0.3,-0.3,-0.3,-0.37,-0.37,-0.06,0.32,0.75,0.6,0.45,
0.64,0.37,0.04,-0.15,-0.3,-0.24,-0.24,-0.3,-0.11,0.0,0.07,0.22,
0.6,0.0,0.19,0.26,0.32,0.22,0.26,0.32,0.32,0.37,0.45,0.37,
0.32,0.22,0.22,0.19,0.19,0.19,-0.06,0.26,0.32,0.32,0.19,0.0,
-0.06,-0.24,-0.24,-0.19,-0.15,-0.06,-0.3,0.26,0.45,0.32,0.26,0.22,
0.0,-0.19,-0.52,-0.56,-0.34,-0.3,-0.15,0.07,0.26,0.37,0.26,0.0,
-0.11,-0.19,-0.06,0.19,0.07,0.0,-0.06,0.13,0.51,0.56,0.51,0.0];
const wghm18 = [-0.15,-0.15,-0.11,-0.06,0.0,0.04,0.13,0.13,0.07,0.07,0.04,0.0,
0.0,0.0,0.0,-0.06,-0.11,-0.15,-0.11,0.0,0.13,0.19,0.26,0.26,
0.19,0.07,-0.06,-0.11,-0.15,-0.19,-0.24,-0.3,-0.3,-0.24,-0.06,0.04,
0.13,0.19,0.22,0.26,0.32,0.26,0.13,-0.06,-0.19,-0.24,-0.19,-0.19,
-0.15,-0.06,0.0,0.13,0.19,0.26,0.19,0.19,0.19,0.22,0.07,-0.06,
-0.15,-0.19,-0.19,-0.15,0.0,0.13,0.13,0.13,0.04,-0.06,0.19,0.26,
0.19,0.07,-0.06,-0.11,-0.19,-0.19,-0.15,-0.11,-0.06,0.04,0.26,0.26,
0.13,0.04,0.0];

const invAll = [inv01,inv02,inv03,inv04,inv05,inv06,inv07,inv08,inv09,inv10,inv11,inv12,inv13,inv14,inv15,inv16,inv17,inv18];
const wghmAll = [wghm01,wghm02,wghm03,wghm04,wghm05,wghm06,wghm07,wghm08,wghm09,wghm10,wghm11,wghm12,wghm13,wghm14,wghm15,wghm16,wghm17,wghm18];

// ---- layout / style ----
const FONT = '"Liberation Sans", Arial, Helvetica, sans-serif';
const COL_LEFT = [99, 631], GRID_W = 499;
const ROW_TOP0 = 33.3, ROW_STEP = 156.2, GRID_H = 132.3;
const X_MIN = 2002.8, X_MAX = 2012, Y_MIN = -3.45, Y_MAX = 4;
const BLUE = '#3d6d94', ORANGE = '#ff6a2f';
const BLUE_W = 3.5, ORANGE_W = 1.2;

function toTime(start, k) { return start[0] + (start[1] + k + 0.5) / 12; }
function minusFmt(v) { return String(v).replace('-', '\u2212'); }

const grids = [], xAxes = [], yAxes = [], series = [], graphics = [];
for (let k = 0; k < 18; k++) {
  const col = k % 2, row = Math.floor(k / 2);
  const top = ROW_TOP0 + ROW_STEP * row;
  const isBottom = row === 8;
  grids.push({ left: COL_LEFT[col], top: top, width: GRID_W, height: GRID_H, containLabel: false });
  xAxes.push({
    type: 'value', gridIndex: k, min: X_MIN, max: X_MAX, position: 'bottom',
    axisLine: { show: true, onZero: false, lineStyle: { color: '#000', width: 1.5 } },
    axisTick: { show: isBottom, customValues: xTickValues, inside: false, length: 13, lineStyle: { color: '#000', width: 1.5 } },
    axisLabel: { show: isBottom, customValues: xTickValues, showMinLabel: true, showMaxLabel: true, margin: 19,
      fontSize: 30, fontWeight: 'bold', color: '#000', fontFamily: FONT, formatter: v => String(v) },
    splitLine: { show: false }
  });
  xAxes.push({
    type: 'value', gridIndex: k, min: X_MIN, max: X_MAX, position: 'top',
    axisLine: { show: true, onZero: false, lineStyle: { color: '#000', width: 1.5 } },
    axisTick: { show: false }, axisLabel: { show: false }, splitLine: { show: false }
  });
  yAxes.push({
    type: 'value', gridIndex: k, min: Y_MIN, max: Y_MAX, position: 'left',
    name: col === 0 ? 'PC [\u2013]' : '', nameLocation: 'middle', nameRotate: 90, nameGap: 52,
    nameTextStyle: { fontSize: 32, fontWeight: 'bold', color: '#000', fontFamily: FONT },
    axisLine: { show: true, onZero: false, lineStyle: { color: '#000', width: 1.5 } },
    axisTick: { show: true, customValues: yTickValues, inside: false, length: 13, lineStyle: { color: '#000', width: 1.5 } },
    axisLabel: { show: col === 0, customValues: yTickValues, showMinLabel: true, showMaxLabel: true, margin: 21,
      fontSize: 30, fontWeight: 'bold', color: '#000', fontFamily: FONT, formatter: minusFmt },
    splitLine: { show: false }
  });
  yAxes.push({
    type: 'value', gridIndex: k, min: Y_MIN, max: Y_MAX, position: 'right',
    axisLine: { show: false },
    axisTick: { show: true, customValues: yTickValues, inside: false, length: 14, lineStyle: { color: '#000', width: 1.5 } },
    axisLabel: { show: false }, splitLine: { show: false }
  });
  series.push({
    type: 'line', name: seriesNames[1], xAxisIndex: 2 * k, yAxisIndex: 2 * k,
    data: wghmAll[k].map((v, i) => [toTime(wghmStart, i), v]),
    showSymbol: false, symbol: 'none', clip: true, animation: false, z: 3,
    lineStyle: { color: ORANGE, width: ORANGE_W }, itemStyle: { color: ORANGE },
    markLine: {
      silent: true, symbol: ['none', 'none'], z: 1, animation: false,
      label: { show: false }, emphasis: { disabled: true },
      lineStyle: { type: [4, 3], color: '#c9c9c9', width: 1 },
      data: yGridValues.map(v => ({ yAxis: v })).concat(xGridValues.map(v => ({ xAxis: v })))
    }
  });
  series.push({
    type: 'line', name: seriesNames[0], xAxisIndex: 2 * k, yAxisIndex: 2 * k,
    data: invAll[k].map((v, i) => [toTime(invStart, i), v]),
    showSymbol: false, symbol: 'none', clip: true, animation: false, z: 4,
    lineStyle: { color: BLUE, width: BLUE_W }, itemStyle: { color: BLUE }
  });
  graphics.push({
    type: 'text', z: 100, x: COL_LEFT[col] + GRID_W / 2, y: top - 7.6,
    style: { text: titles[k], font: 'bold 28px ' + FONT, fill: '#000', align: 'center', verticalAlign: 'middle',
      backgroundColor: '#fff', borderColor: '#444', borderWidth: 1, borderRadius: 5, padding: [3, 8, 3, 8] }
  });
}
// right-hand frame lines of both columns (continuous, grey)
for (let c = 0; c < 2; c++) {
  graphics.push({ type: 'line', z: 90, shape: { x1: COL_LEFT[c] + GRID_W, y1: 20, x2: COL_LEFT[c] + GRID_W, y2: 1428 },
    style: { stroke: '#7a7a7a', lineWidth: 2 } });
}

const chart = echarts.init(document.getElementById('c'), null, { renderer: 'canvas' });
chart.setOption({
  animation: false,
  backgroundColor: '#fff',
  grid: grids, xAxis: xAxes, yAxis: yAxes, series: series,
  legend: {
    data: [
      { name: seriesNames[0], lineStyle: { width: BLUE_W, color: BLUE } },
      { name: seriesNames[1], lineStyle: { width: ORANGE_W, color: ORANGE } }
    ],
    left: 638, top: 1376, orient: 'horizontal', z: 20,
    itemWidth: 30, itemHeight: 14, itemGap: 24,
    itemStyle: { opacity: 0 },
    backgroundColor: '#fff', borderColor: '#000', borderWidth: 1, borderRadius: 0, padding: [6, 14, 6, 13],
    textStyle: { fontSize: 23, fontWeight: 'bold', color: '#000', fontFamily: FONT },
    formatter: n => ' : ' + n
  },
  graphic: graphics
});
</script>
</body></html>
